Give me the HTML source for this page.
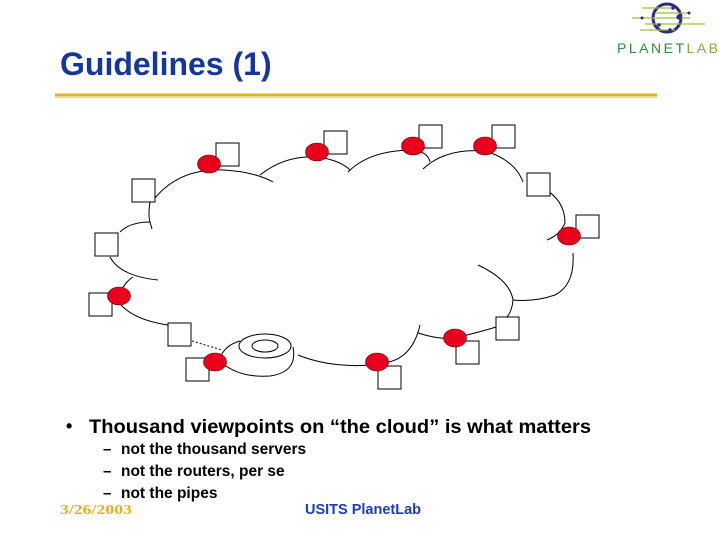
<!DOCTYPE html>
<html><head><style>
html,body{margin:0;padding:0;background:#fff;}
svg{display:block;}
</style></head><body>
<svg width="719" height="539" viewBox="0 0 719 539" xmlns="http://www.w3.org/2000/svg">
<rect width="719" height="539" fill="#fff"/>
<!-- logo -->
<g>
<circle cx="667" cy="18" r="14" fill="none" stroke="#2a2a8a" stroke-width="3"/>
<g stroke="#9cbf3a" stroke-width="1.3">
<line x1="642" y1="8" x2="675" y2="8"/><line x1="632" y1="18" x2="690" y2="18"/><line x1="645" y1="24" x2="705" y2="24"/><line x1="640" y1="30" x2="675" y2="30"/><line x1="655" y1="13" x2="690" y2="13"/>
</g>
<g fill="#2a2a8a"><circle cx="673" cy="8" r="1.7"/><circle cx="679" cy="17" r="2.6"/><circle cx="689" cy="13" r="1.5"/><circle cx="659" cy="25" r="1.7"/><circle cx="670" cy="30" r="1.7"/><circle cx="642" cy="18" r="1.5"/></g>
<text x="617" y="53" font-family="Liberation Sans, sans-serif" font-size="14" fill="#2e8b3a" textLength="101" lengthAdjust="spacing">PLANET<tspan fill="#7cae3a">LAB</tspan></text>
</g>
<text x="60" y="75" font-family="Liberation Sans, sans-serif" font-weight="bold" font-size="32" fill="#1436a0">Guidelines (1)</text>
<line x1="55" y1="95" x2="657" y2="95" stroke="#e8b020" stroke-width="3"/>
<line x1="55" y1="97.5" x2="657" y2="97.5" stroke="#f5dc90" stroke-width="1"/>
<!-- cloud arcs -->
<g fill="none" stroke="#000" stroke-width="1">
<path d="M155,198 Q180,168 224,170 Q255,172 273,182"/>
<path d="M260,175 Q285,155 317,157 Q340,160 350,170"/>
<path d="M348,172 Q370,150 413,150 Q428,152 430,162"/>
<path d="M423,169 Q445,148 485,151 Q515,160 523,182"/>
<path d="M543,188 Q565,200 565,223 Q560,235 547,240"/>
<path d="M573,253 Q575,285 555,295 Q535,302 513,300"/>
<path d="M478,265 Q510,280 513,300 Q512,312 506,318"/>
<path d="M418,333 Q440,340 455,338 Q480,332 496,327"/>
<path d="M420,325 Q412,360 383,363"/>
<path d="M298,355 Q330,368 372,365"/>
<path d="M121,305 Q135,320 168,325"/>
<path d="M192,341 L222,350" stroke-dasharray="2,2"/>
<path d="M120,293 Q125,282 133,277"/>
<path d="M110,257 Q120,276 158,280"/>
<path d="M120,232 Q130,222 150,222 L152,229"/>
<path d="M150,202 Q148,215 150,222"/>
<ellipse cx="265" cy="346" rx="26" ry="12"/>
<ellipse cx="265" cy="346" rx="13" ry="6"/>
<path d="M222,363 Q240,378 270,376 Q298,372 293,347"/>
<path d="M220,358 Q225,345 240,341"/>
</g>
<!-- squares -->
<g fill="#fff" stroke="#000" stroke-width="1">
<rect x="216" y="143" width="23" height="23"/>
<rect x="324" y="131" width="23" height="23"/>
<rect x="419" y="125" width="23" height="23"/>
<rect x="492" y="125" width="23" height="23"/>
<rect x="527" y="173" width="23" height="23"/>
<rect x="576" y="215" width="23" height="23"/>
<rect x="496" y="317" width="23" height="23"/>
<rect x="456" y="341" width="23" height="23"/>
<rect x="378" y="366" width="23" height="23"/>
<rect x="186" y="358" width="23" height="23"/>
<rect x="168" y="323" width="23" height="23"/>
<rect x="89" y="293" width="23" height="23"/>
<rect x="95" y="233" width="23" height="23"/>
<rect x="132" y="179" width="23" height="23"/>
</g>
<!-- routers -->
<g fill="#e8001c" stroke="#600" stroke-width="0.6">
<ellipse cx="209" cy="164" rx="11.5" ry="9"/>
<ellipse cx="317" cy="152" rx="11.5" ry="9"/>
<ellipse cx="413" cy="146" rx="11.5" ry="9"/>
<ellipse cx="485" cy="146" rx="11.5" ry="9"/>
<ellipse cx="569" cy="236" rx="11.5" ry="9"/>
<ellipse cx="455" cy="338" rx="11.5" ry="9"/>
<ellipse cx="377" cy="362" rx="11.5" ry="9"/>
<ellipse cx="215" cy="362" rx="11.5" ry="9"/>
<ellipse cx="119" cy="296" rx="11.5" ry="9"/>
</g>
<!-- text -->
<g font-family="Liberation Sans, sans-serif" font-weight="bold" fill="#000">
<text x="66" y="432" font-size="18">•</text>
<text x="89" y="433" font-size="19.5" textLength="502" lengthAdjust="spacingAndGlyphs">Thousand viewpoints on “the cloud” is what matters</text>
<text x="103" y="454" font-size="15">–</text><text x="121" y="454" font-size="15.5">not the thousand servers</text>
<text x="103" y="476" font-size="15">–</text><text x="121" y="476" font-size="15.5">not the routers, per se</text>
<text x="103" y="498" font-size="15">–</text><text x="121" y="498" font-size="15.5">not the pipes</text>
</g>
<text x="60" y="514" font-family="Liberation Serif, serif" font-weight="bold" font-size="14" fill="#e8b020" textLength="72" lengthAdjust="spacingAndGlyphs">3/26/2003</text>
<text x="305" y="514" font-family="Liberation Sans, sans-serif" font-weight="bold" font-size="14.5" fill="#1a3cc8">USITS PlanetLab</text>
</svg>
</body></html>
